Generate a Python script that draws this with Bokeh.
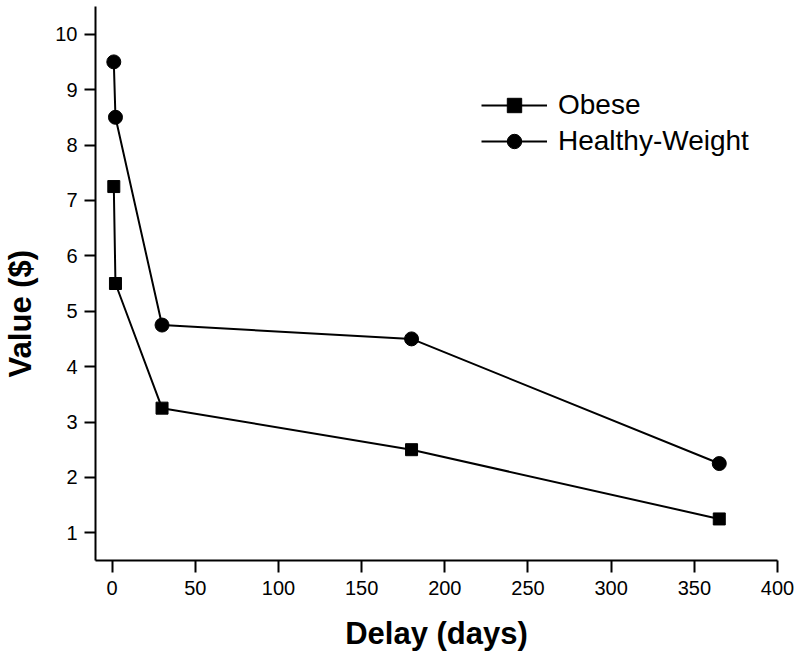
from bokeh.plotting import figure
from bokeh.models import Range1d, FixedTicker, Legend, LegendItem
from bokeh.embed import file_html
from bokeh.resources import INLINE

# Data
delay_days = [1, 2, 30, 180, 365]
obese_values = [7.25, 5.5, 3.25, 2.5, 1.25]
healthy_values = [9.5, 8.5, 4.75, 4.5, 2.25]
x_ticks = [0, 50, 100, 150, 200, 250, 300, 350, 400]
y_ticks = [1, 2, 3, 4, 5, 6, 7, 8, 9, 10]
series_names = ["Obese", "Healthy-Weight"]

FONT = "Liberation Sans"
NBSP = "\u00a0"

p = figure(width=800, height=656, output_backend="svg", toolbar_location=None,
           x_range=Range1d(-10, 400), y_range=Range1d(0.5, 10.5),
           min_border_left=93, min_border_right=23, min_border_top=6,
           min_border_bottom=96)
p.outline_line_color = None
p.xgrid.visible = False
p.ygrid.visible = False
p.background_fill_color = "white"
p.border_fill_color = "white"

r1l = p.line(delay_days, obese_values, line_color="black", line_width=2)
r1m = p.scatter(delay_days, obese_values, marker="square", size=12,
                fill_color="black", line_color="black")
r2l = p.line(delay_days, healthy_values, line_color="black", line_width=2)
r2m = p.scatter(delay_days, healthy_values, marker="circle", size=14,
                fill_color="black", line_color="black")

for ax in (p.xaxis[0], p.yaxis[0]):
    ax.axis_line_width = 2
    ax.axis_line_color = "black"
    ax.major_tick_line_width = 2
    ax.major_tick_line_color = "black"
    ax.major_tick_in = 0
    ax.minor_tick_line_color = None
    ax.major_label_text_font = FONT
    ax.major_label_text_font_size = "20px"
    ax.major_label_text_color = "black"
    ax.axis_label_text_font = FONT
    ax.axis_label_text_font_size = "31px"
    ax.axis_label_text_font_style = "bold"
    ax.axis_label_text_color = "black"

p.xaxis[0].ticker = FixedTicker(ticks=x_ticks)
p.yaxis[0].ticker = FixedTicker(ticks=y_ticks)
p.xaxis[0].major_tick_out = 12
p.yaxis[0].major_tick_out = 11
p.xaxis[0].major_label_standoff = 8
p.yaxis[0].major_label_standoff = 7

p.xaxis[0].axis_label = "Delay (days)"
p.xaxis[0].axis_label_standoff = 18

# trailing non-breaking spaces shift the rotated label down, as in the reference
p.yaxis[0].axis_label = "Value ($)" + NBSP * 7
p.yaxis[0].axis_label_standoff = 14

legend = Legend(items=[LegendItem(label=series_names[0], renderers=[r1l, r1m]),
                       LegendItem(label=series_names[1], renderers=[r2l, r2m])],
                location=(386, 401), orientation="vertical",
                glyph_width=66, glyph_height=36, label_standoff=11, spacing=0,
                padding=0, margin=0, border_line_color=None,
                background_fill_alpha=0,
                label_text_font=FONT, label_text_font_size="28px",
                label_text_color="black", label_height=36)
p.add_layout(legend)

open("out.html", "w").write(file_html(p, INLINE))
